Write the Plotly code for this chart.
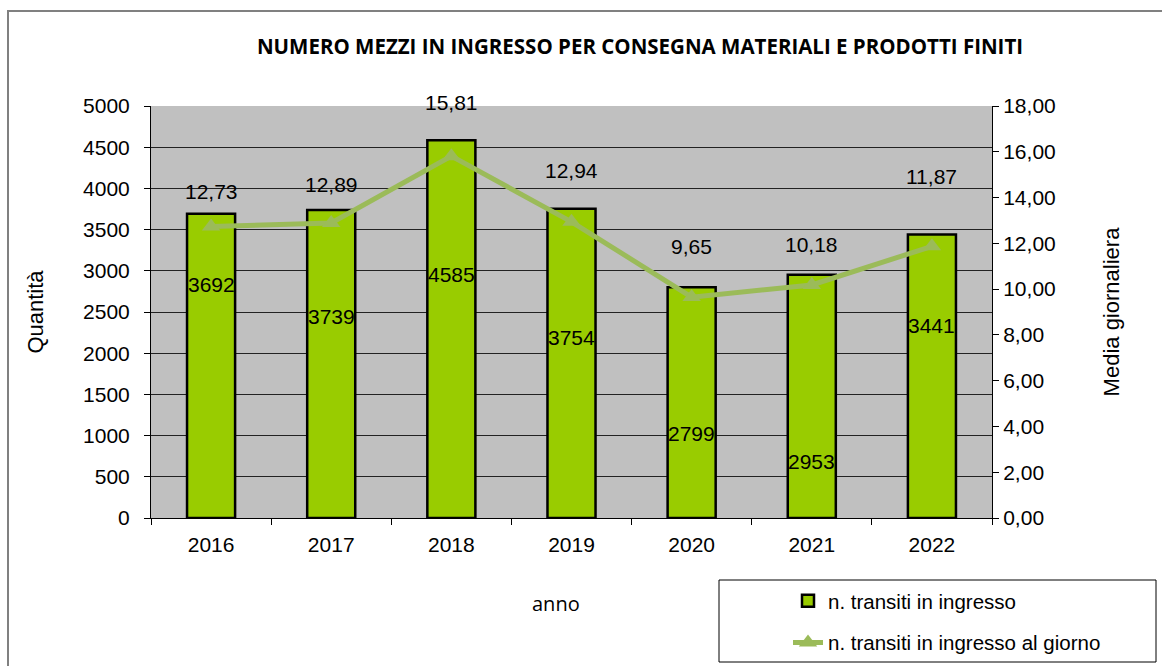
import plotly.graph_objects as go

years = ["2016", "2017", "2018", "2019", "2020", "2021", "2022"]
transiti = [3692, 3739, 4585, 3754, 2799, 2953, 3441]
media_giorno = [12.73, 12.89, 15.81, 12.94, 9.65, 10.18, 11.87]
# where Excel placed the value labels (label positions)
bar_label_y = [2830, 2450, 2950, 2185, 1020, 690, 2340]
line_label_shift = [35, 38, 54, 51, 51, 40, 70]

W, H = 1162, 666
L, R, T, B = 151, 992, 106, 518  # plot area in px


def px_x(p):
    return (p - L) / (R - L)


def px_y(p):
    return (B - p) / (B - T)


FONT = "Liberation Sans, Arial, sans-serif"
FONT2 = "Open Sans, Liberation Sans, sans-serif"
LINE_COL = "#9bbb59"

fig = go.Figure()
fig.add_trace(go.Bar(
    x=years, y=transiti, name="n. transiti in ingresso",
    marker=dict(color="#99cc00", line=dict(color="black", width=2.5)),
    legendgroup="a",
))
fig.add_trace(go.Scatter(
    x=years, y=media_giorno, name="n. transiti in ingresso al giorno",
    yaxis="y2", mode="lines+markers",
    line=dict(color=LINE_COL, width=5),
    marker=dict(symbol="triangle-up", size=16, color=LINE_COL),
    legendgroup="b",
))

annotations = []
for i, (v, ly) in enumerate(zip(transiti, bar_label_y)):
    annotations.append(dict(x=i, y=ly, xref="x", yref="y", text=str(v),
                            showarrow=False, font=dict(size=21, color="black", family=FONT)))
for i, (v, sh) in enumerate(zip(media_giorno, line_label_shift)):
    annotations.append(dict(x=i, y=v, xref="x", yref="y2",
                            text=f"{v:.2f}".replace(".", ","), yshift=sh,
                            showarrow=False, font=dict(size=21, color="black", family=FONT)))
annotations.append(dict(x=px_x(556), y=px_y(603), xref="paper", yref="paper", text="anno",
                        xanchor="center", yanchor="middle",
                        showarrow=False, font=dict(size=20, color="black", family=FONT2)))

shapes = [
    # outer chart border
    dict(type="rect", xref="paper", yref="paper",
         x0=px_x(8), x1=px_x(1175), y0=px_y(11), y1=px_y(680),
         line=dict(color="#808080", width=2), fillcolor="rgba(0,0,0,0)", layer="below"),
    # legend box
    dict(type="rect", xref="paper", yref="paper",
         x0=px_x(719), x1=px_x(1156), y0=px_y(580), y1=px_y(662),
         line=dict(color="black", width=1), fillcolor="white", layer="below"),
]

fig.update_layout(
    width=W, height=H,
    margin=dict(l=L, r=W - R, t=T, b=H - B, autoexpand=False),
    paper_bgcolor="white", plot_bgcolor="#c0c0c0",
    separators=",.",
    font=dict(family=FONT, size=21, color="black"),
    title=dict(text="<b>NUMERO MEZZI IN INGRESSO PER CONSEGNA MATERIALI E PRODOTTI FINITI</b>",
               x=640 / W, xanchor="center", y=1 - 47 / H, yanchor="middle",
               font=dict(size=20.5, family=FONT2, color="black")),
    bargap=0.6,
    xaxis=dict(type="category", range=[-0.5, len(years) - 0.5], autorange=False,
               showline=True, linecolor="black", linewidth=1,
               ticks="outside", tickson="boundaries", ticklen=6, tickcolor="black",
               ticklabelstandoff=8,
               showgrid=False, tickfont=dict(size=21), tickangle=0),
    yaxis=dict(range=[0, 5000], dtick=500, tickformat="d", showline=True, linecolor="black",
               linewidth=1, ticks="outside", ticklen=6, tickcolor="black",
               ticklabelstandoff=10,
               gridcolor="#222222", gridwidth=1, zeroline=False,
               title=dict(text="Quantità", standoff=33, font=dict(size=22)),
               tickfont=dict(size=21)),
    yaxis2=dict(range=[0, 18], dtick=2, tickformat=".2f", overlaying="y", side="right",
                showline=True, linecolor="black", linewidth=1, ticks="outside", ticklen=6,
                tickcolor="black", showgrid=False, zeroline=False,
                title=dict(text="Media giornaliera", standoff=48, font=dict(size=22)),
                tickfont=dict(size=21)),
    showlegend=True,
    legend=dict(x=px_x(788), xanchor="left", y=px_y(581), yanchor="top",
                bgcolor="rgba(0,0,0,0)", borderwidth=0, font=dict(size=20.5, family=FONT),
                traceorder="grouped", tracegroupgap=12),
    annotations=annotations,
    shapes=shapes,
)

fig.write_html("out.html", post_script="document.body.style.margin='0';",
               config={"displayModeBar": False})
